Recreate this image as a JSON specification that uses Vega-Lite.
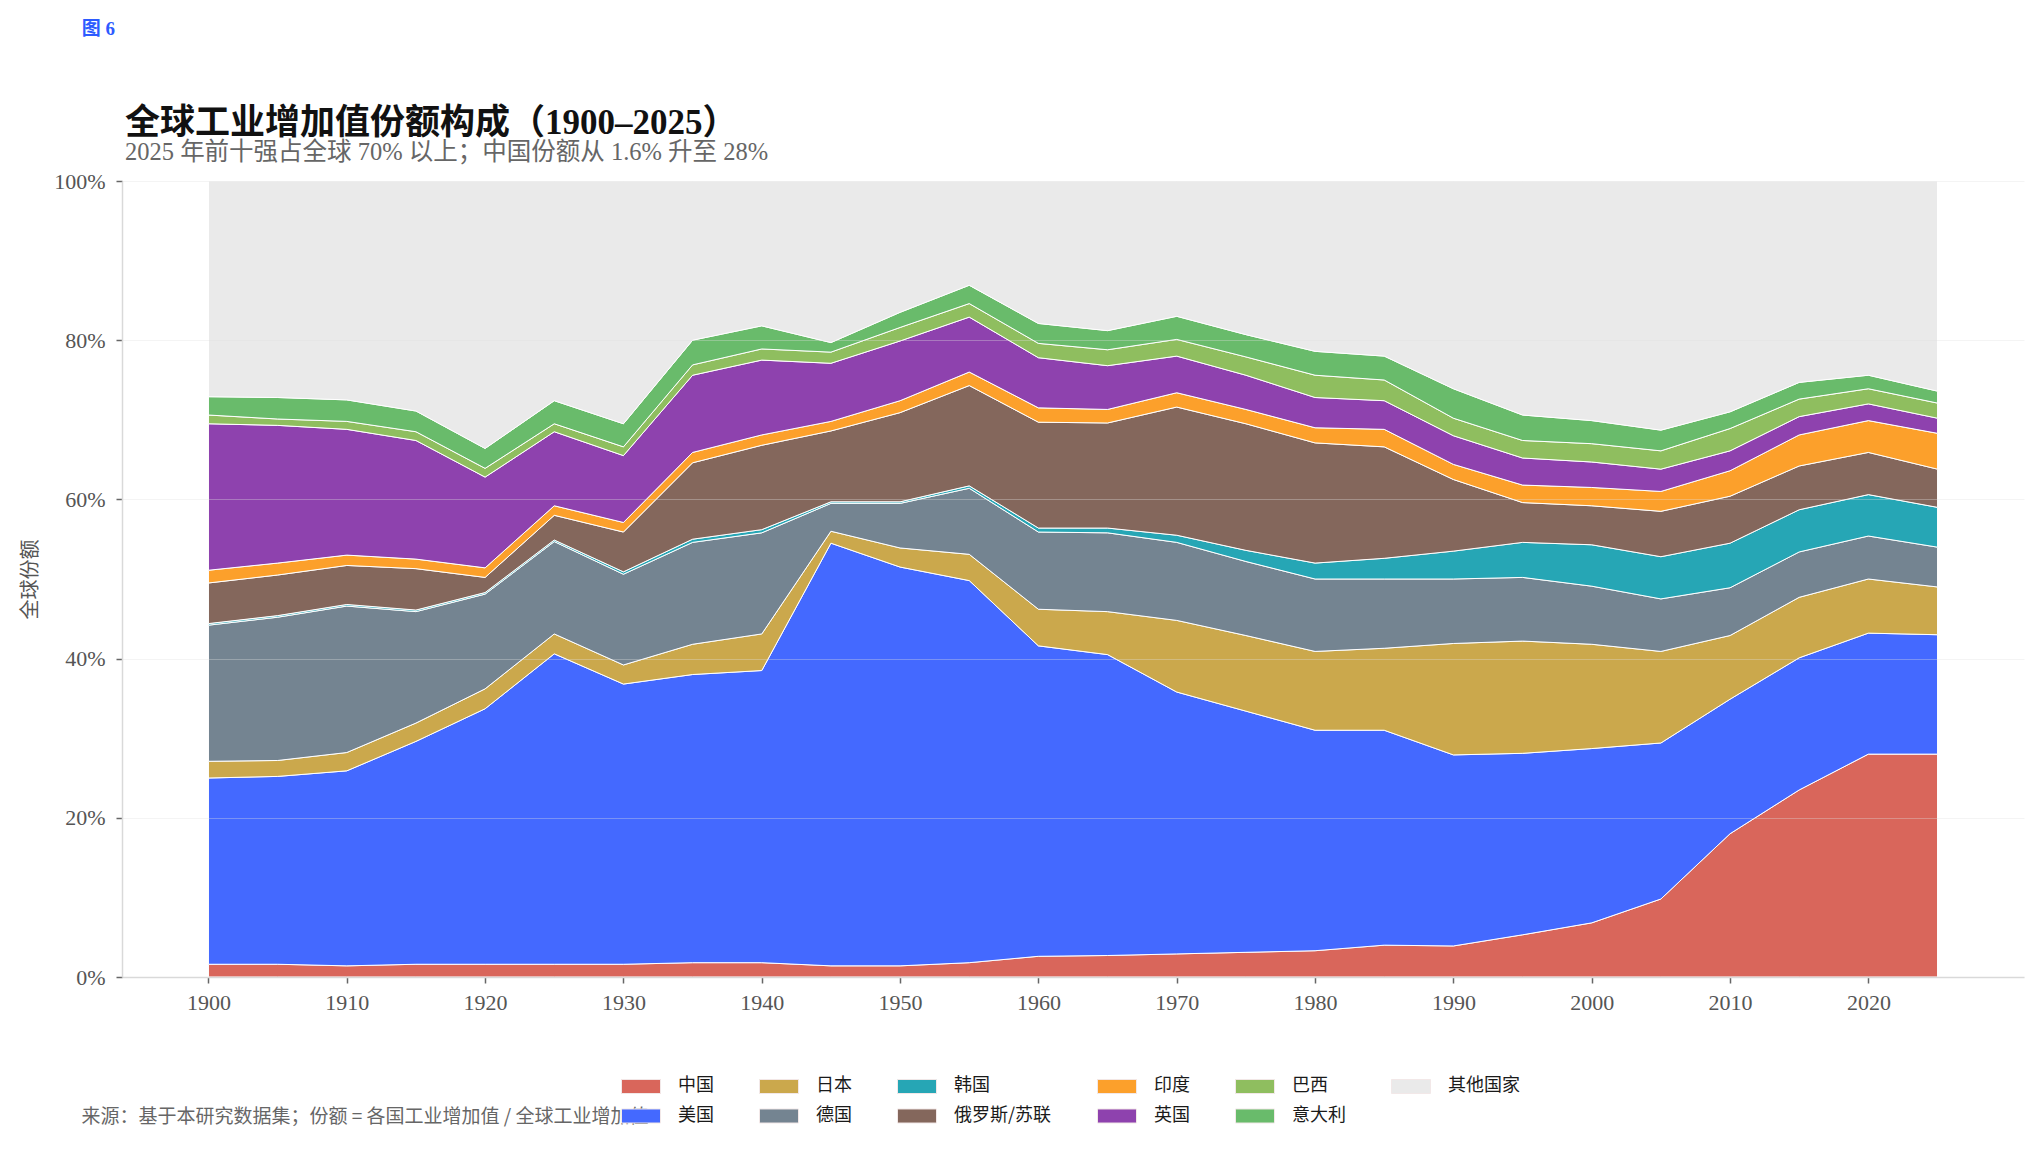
{
  "$schema": "https://vega.github.io/schema/vega-lite/v6.json",
  "background": "white",
  "padding": {"left": 20, "top": 19, "right": 10, "bottom": 10},
  "title": {
    "text": "图 6",
    "anchor": "start",
    "font": "Liberation Serif, Noto Sans CJK SC",
    "fontSize": 19,
    "fontWeight": "bold",
    "color": "#2d5bff",
    "offset": 67,
    "dx": 61
  },
  "vconcat": [
    {
      "width": 1902,
      "height": 796,
      "title": {
        "text": "全球工业增加值份额构成（1900–2025）",
        "subtitle": "2025 年前十强占全球 70% 以上；中国份额从 1.6% 升至 28%",
        "anchor": "start",
        "frame": "group",
        "dx": 3,
        "offset": 6,
        "font": "Liberation Serif, Noto Sans CJK SC",
        "fontSize": 35,
        "fontWeight": "bold",
        "color": "#111111",
        "subtitleFont": "Liberation Serif, Noto Sans CJK SC",
        "subtitleFontSize": 24.5,
        "subtitleColor": "#666666",
        "subtitlePadding": 0
      },
      "data": {
        "values": [
          {"year": 1900, "中国": 1.6, "美国": 23.4, "日本": 2.1, "德国": 17.1, "韩国": 0.2, "俄罗斯/苏联": 5.1, "印度": 1.6, "英国": 18.4, "巴西": 1.1, "意大利": 2.3, "其他国家": 27.1},
          {"year": 1905, "中国": 1.6, "美国": 23.6, "日本": 2.0, "德国": 18.0, "韩国": 0.2, "俄罗斯/苏联": 5.1, "印度": 1.5, "英国": 17.3, "巴西": 0.8, "意大利": 2.7, "其他国家": 27.2},
          {"year": 1910, "中国": 1.4, "美国": 24.5, "日本": 2.3, "德国": 18.4, "韩国": 0.2, "俄罗斯/苏联": 4.9, "印度": 1.3, "英国": 15.8, "巴西": 1.0, "意大利": 2.7, "其他国家": 27.5},
          {"year": 1915, "中国": 1.6, "美国": 28.0, "日本": 2.3, "德国": 14.0, "韩国": 0.2, "俄罗斯/苏联": 5.2, "印度": 1.2, "英国": 14.9, "巴西": 1.1, "意大利": 2.6, "其他国家": 28.9},
          {"year": 1920, "中国": 1.6, "美国": 32.1, "日本": 2.5, "德国": 11.9, "韩国": 0.2, "俄罗斯/苏联": 1.9, "印度": 1.2, "英国": 11.4, "巴西": 1.1, "意大利": 2.5, "其他国家": 33.6},
          {"year": 1925, "中国": 1.6, "美国": 39.0, "日本": 2.5, "德国": 11.6, "韩国": 0.2, "俄罗斯/苏联": 3.1, "印度": 1.2, "英国": 9.3, "巴西": 1.0, "意大利": 2.9, "其他国家": 27.6},
          {"year": 1930, "中国": 1.6, "美国": 35.2, "日本": 2.4, "德国": 11.4, "韩国": 0.3, "俄罗斯/苏联": 5.0, "印度": 1.2, "英国": 8.4, "巴西": 1.1, "意大利": 2.9, "其他国家": 30.5},
          {"year": 1935, "中国": 1.8, "美国": 36.2, "日本": 3.8, "德国": 12.8, "韩国": 0.4, "俄罗斯/苏联": 9.6, "印度": 1.3, "英国": 9.7, "巴西": 1.3, "意大利": 3.1, "其他国家": 20.0},
          {"year": 1940, "中国": 1.8, "美国": 36.7, "日本": 4.6, "德国": 12.7, "韩国": 0.4, "俄罗斯/苏联": 10.6, "印度": 1.3, "英国": 9.4, "巴西": 1.4, "意大利": 2.9, "其他国家": 18.2},
          {"year": 1945, "中国": 1.4, "美国": 53.1, "日本": 1.5, "德国": 3.5, "韩国": 0.2, "俄罗斯/苏联": 8.9, "印度": 1.2, "英国": 7.3, "巴西": 1.4, "意大利": 1.2, "其他国家": 20.3},
          {"year": 1950, "中国": 1.4, "美国": 50.1, "日本": 2.4, "德国": 5.6, "韩国": 0.2, "俄罗斯/苏联": 11.2, "印度": 1.5, "英国": 7.5, "巴西": 1.7, "意大利": 1.9, "其他国家": 16.5},
          {"year": 1955, "中国": 1.8, "美国": 48.0, "日本": 3.3, "德国": 8.3, "韩国": 0.3, "俄罗斯/苏联": 12.6, "印度": 1.7, "英国": 6.9, "巴西": 1.7, "意大利": 2.3, "其他国家": 13.1},
          {"year": 1960, "中国": 2.6, "美国": 39.0, "日本": 4.6, "德国": 9.7, "韩国": 0.5, "俄罗斯/苏联": 13.3, "印度": 1.8, "英国": 6.3, "巴西": 1.8, "意大利": 2.5, "其他国家": 17.9},
          {"year": 1965, "中国": 2.7, "美国": 37.8, "日本": 5.4, "德国": 9.9, "韩国": 0.6, "俄罗斯/苏联": 13.2, "印度": 1.7, "英国": 5.5, "巴西": 2.0, "意大利": 2.4, "其他国家": 18.8},
          {"year": 1970, "中国": 2.9, "美国": 32.9, "日本": 9.0, "德国": 9.8, "韩国": 0.9, "俄罗斯/苏联": 16.1, "印度": 1.8, "英国": 4.6, "巴西": 2.1, "意大利": 2.9, "其他国家": 17.0},
          {"year": 1975, "中国": 3.1, "美国": 30.3, "日本": 9.5, "德国": 9.3, "韩国": 1.4, "俄罗斯/苏联": 15.9, "印度": 1.8, "英国": 4.3, "巴西": 2.3, "意大利": 2.8, "其他国家": 19.3},
          {"year": 1980, "中国": 3.3, "美国": 27.7, "日本": 9.9, "德国": 9.1, "韩国": 2.0, "俄罗斯/苏联": 15.1, "印度": 1.9, "英国": 3.8, "巴西": 2.8, "意大利": 3.0, "其他国家": 21.4},
          {"year": 1985, "中国": 4.0, "美国": 27.0, "日本": 10.3, "德国": 8.7, "韩国": 2.6, "俄罗斯/苏联": 14.0, "印度": 2.2, "英国": 3.6, "巴西": 2.6, "意大利": 3.0, "其他国家": 22.0},
          {"year": 1990, "中国": 3.9, "美国": 24.0, "日本": 14.0, "德国": 8.1, "韩国": 3.5, "俄罗斯/苏联": 9.0, "印度": 1.9, "英国": 3.6, "巴西": 2.2, "意大利": 3.7, "其他国家": 26.1},
          {"year": 1995, "中国": 5.3, "美国": 22.8, "日本": 14.1, "德国": 8.0, "韩国": 4.4, "俄罗斯/苏联": 5.0, "印度": 2.2, "英国": 3.4, "巴西": 2.2, "意大利": 3.2, "其他国家": 29.4},
          {"year": 2000, "中国": 6.8, "美国": 21.9, "日本": 13.1, "德国": 7.3, "韩国": 5.2, "俄罗斯/苏联": 4.9, "印度": 2.3, "英国": 3.2, "巴西": 2.3, "意大利": 2.9, "其他国家": 30.1},
          {"year": 2005, "中国": 9.8, "美国": 19.6, "日本": 11.5, "德国": 6.6, "韩国": 5.3, "俄罗斯/苏联": 5.7, "印度": 2.5, "英国": 2.8, "巴西": 2.3, "意大利": 2.6, "其他国家": 31.3},
          {"year": 2010, "中国": 18.0, "美国": 16.9, "日本": 8.0, "德国": 6.0, "韩国": 5.6, "俄罗斯/苏联": 5.9, "印度": 3.2, "英国": 2.5, "巴西": 2.8, "意大利": 2.1, "其他国家": 29.0},
          {"year": 2015, "中国": 23.5, "美国": 16.6, "日本": 7.6, "德国": 5.7, "韩国": 5.3, "俄罗斯/苏联": 5.5, "印度": 3.9, "英国": 2.3, "巴西": 2.2, "意大利": 2.1, "其他国家": 25.3},
          {"year": 2020, "中国": 28.0, "美国": 15.2, "日本": 6.8, "德国": 5.4, "韩国": 5.2, "俄罗斯/苏联": 5.3, "印度": 4.0, "英国": 2.1, "巴西": 1.9, "意大利": 1.7, "其他国家": 24.4},
          {"year": 2025, "中国": 28.0, "美国": 15.0, "日本": 6.0, "德国": 5.0, "韩国": 5.0, "俄罗斯/苏联": 4.8, "印度": 4.5, "英国": 1.9, "巴西": 1.9, "意大利": 1.5, "其他国家": 26.4}
        ]
      },
      "transform": [
        {"fold": ["中国", "美国", "日本", "德国", "韩国", "俄罗斯/苏联", "印度", "英国", "巴西", "意大利", "其他国家"], "as": ["country", "share"]},
        {"calculate": "indexof(['中国', '美国', '日本', '德国', '韩国', '俄罗斯/苏联', '印度', '英国', '巴西', '意大利', '其他国家'], datum.country)", "as": "stackOrder"}
      ],
      "mark": {"type": "area", "stroke": "white", "strokeWidth": 1, "strokeJoin": "round"},
      "encoding": {
        "x": {
          "field": "year",
          "type": "quantitative",
          "scale": {"domain": [1893.75, 2031.25], "nice": false, "zero": false},
          "axis": {
            "values": [1900, 1910, 1920, 1930, 1940, 1950, 1960, 1970, 1980, 1990, 2000, 2010, 2020],
            "format": "d",
            "grid": false,
            "zindex": 1,
            "labelFont": "Liberation Serif",
            "labelFontSize": 22,
            "labelColor": "#555555",
            "labelPadding": 9,
            "tickColor": "#666666",
            "tickSize": 6,
            "tickWidth": 1.5,
            "domainColor": "#d9d9d9",
            "domainWidth": 1.5,
            "title": "来源：基于本研究数据集；份额 = 各国工业增加值 / 全球工业增加值",
            "titleFont": "Noto Sans CJK SC",
            "titleFontSize": 19,
            "titleFontWeight": "normal",
            "titleColor": "#666666",
            "titleAnchor": "start",
            "titleAlign": "left",
            "titleBaseline": "middle",
            "titleX": -41,
            "titleY": 139
          }
        },
        "y": {
          "field": "share",
          "type": "quantitative",
          "stack": "zero",
          "scale": {"domain": [0, 100], "nice": false},
          "axis": {
            "values": [0, 20, 40, 60, 80, 100],
            "labelExpr": "datum.value + '%'",
            "zindex": 1,
            "grid": true,
            "gridColor": "#e0e0e0",
            "gridOpacity": 0.35,
            "gridWidth": 1.2,
            "labelFont": "Liberation Serif",
            "labelFontSize": 22,
            "labelColor": "#555555",
            "labelPadding": 11,
            "tickColor": "#666666",
            "tickSize": 6,
            "tickWidth": 1.5,
            "domainColor": "#d9d9d9",
            "domainWidth": 1.5,
            "title": "全球份额",
            "titleFont": "Noto Sans CJK SC",
            "titleFontSize": 20,
            "titleFontWeight": "normal",
            "titleColor": "#555555",
            "titlePadding": 13
          }
        },
        "color": {
          "field": "country",
          "type": "nominal",
          "scale": {
            "domain": ["中国", "日本", "韩国", "印度", "巴西", "其他国家", "美国", "德国", "俄罗斯/苏联", "英国", "意大利"],
            "range": ["#d9665b", "#cba84c", "#26a6b5", "#fca02b", "#8fbe5f", "#eaeaea", "#4469ff", "#748491", "#84675c", "#8e42ae", "#69bb6b"]
          },
          "legend": {
            "orient": "none",
            "legendX": 499,
            "legendY": 885,
            "direction": "horizontal",
            "columns": 6,
            "title": null,
            "symbolType": "M-1,-0.36H1V0.36H-1Z",
            "symbolSize": 1521,
            "symbolOpacity": 1,
            "symbolStrokeColor": "#f2e8e8",
            "symbolStrokeWidth": 1,
            "labelFont": "Noto Sans CJK SC",
            "labelFontSize": 18,
            "labelColor": "#1a1a1a",
            "labelOffset": 17,
            "columnPadding": 43,
            "rowPadding": -7
          }
        },
        "order": {"field": "stackOrder", "type": "quantitative"}
      }
    }
  ],
  "config": {
    "view": {"stroke": null},
    "concat": {"spacing": 0}
  }
}
